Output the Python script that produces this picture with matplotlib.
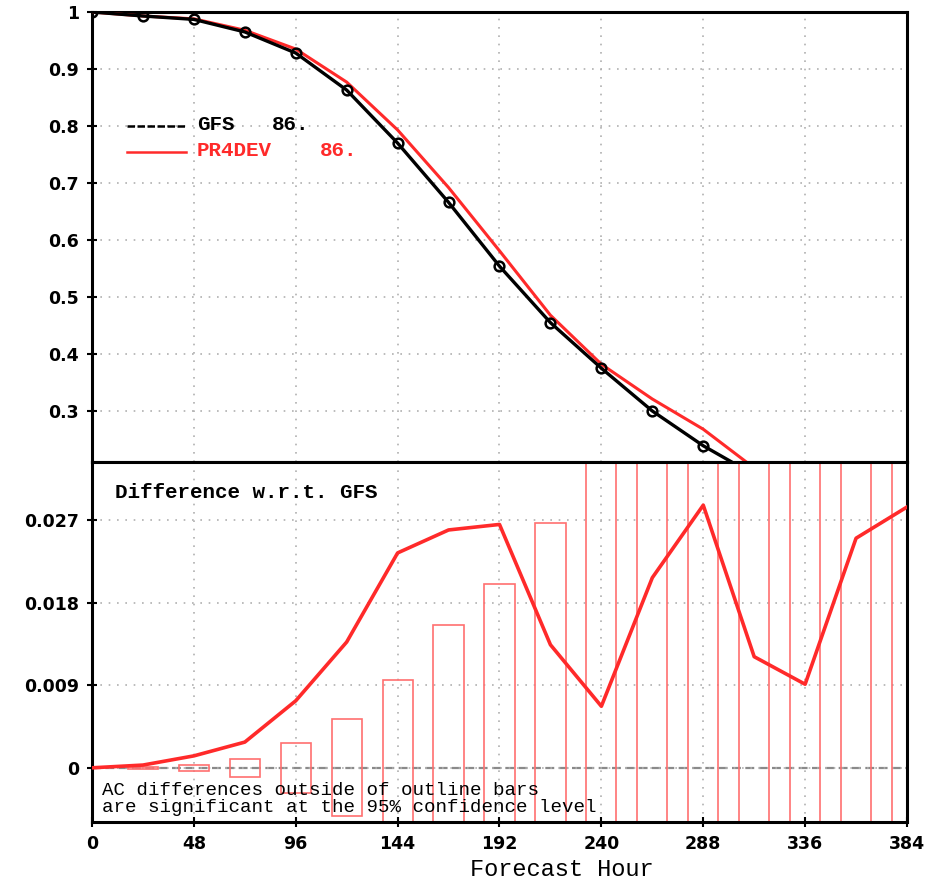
import matplotlib
matplotlib.use("Agg")
import matplotlib.pyplot as plt
import numpy as np

# ---- data ----
hours = [0, 24, 48, 72, 96, 120, 144, 168, 192, 216, 240, 264, 288, 312, 336, 360, 384]
gfs = [1.0, 0.993, 0.987, 0.965, 0.928, 0.863, 0.770, 0.666, 0.554, 0.455, 0.375, 0.300, 0.239, 0.188, 0.151, 0.120, 0.100]
pr4dev = [1.0, 0.993, 0.988, 0.968, 0.935, 0.877, 0.793, 0.692, 0.581, 0.468, 0.382, 0.321, 0.268, 0.200, 0.160, 0.145, 0.128]
diff = [0.0, 0.0003, 0.0013, 0.0028, 0.0073, 0.0137, 0.0234, 0.0259, 0.0265, 0.0134, 0.0067, 0.0207, 0.0286, 0.0121, 0.0091, 0.0250, 0.0284]
bar_hours = [24, 48, 72, 96, 120, 144, 168, 192, 216, 240, 264, 288, 312, 336, 360, 384]
bar_half = [0.0001, 0.0003, 0.0010, 0.0027, 0.0053, 0.0096, 0.0155, 0.0200, 0.0267, 0.036, 0.042, 0.047, 0.052, 0.056, 0.060, 0.064]
x_ticks = [0, 48, 96, 144, 192, 240, 288, 336, 384]
top_yticks = [0.3, 0.4, 0.5, 0.6, 0.7, 0.8, 0.9, 1.0]
top_yticklabels = ["0.3", "0.4", "0.5", "0.6", "0.7", "0.8", "0.9", "1"]
bot_yticks = [0, 0.009, 0.018, 0.027]
bot_yticklabels = ["0", "0.009", "0.018", "0.027"]

W, H = 933, 883
fig = plt.figure(figsize=(W / 100, H / 100), dpi=100)

def fx(px):
    return px / W

def fy(py):
    return 1 - py / H

left, right = 92, 907
ax1 = fig.add_axes([fx(left), fy(462), fx(right - left), (462 - 12) / H])
ax2 = fig.add_axes([fx(left), fy(822), fx(right - left), (822 - 462) / H])

tick_font = dict(family="DejaVu Sans", weight="bold", size=12.5)
grid_kw = dict(color="#b0b0b0", linestyle=(0, (1, 4)), linewidth=1.2)

for ax in (ax1, ax2):
    for s in ax.spines.values():
        s.set_linewidth(2.2)
        s.set_color("black")
    ax.set_xlim(0, 384)
    ax.set_xticks(x_ticks)
    ax.grid(True, **grid_kw)
    ax.tick_params(axis="both", direction="inout", length=7, width=1.5, pad=6)

# ---- top panel ----
ax1.set_ylim(0.2105, 1.0)
ax1.set_yticks(top_yticks)
ax1.set_yticklabels(top_yticklabels, fontdict=tick_font)
ax1.tick_params(axis="x", labelbottom=False, length=0)
ax1.plot(hours, pr4dev, color="#ff2a2a", linewidth=2.2, zorder=3, clip_on=True)
ax1.plot(hours, gfs, color="black", linewidth=2.4, marker="o", markersize=7,
         markerfacecolor="none", markeredgecolor="black", markeredgewidth=1.8, zorder=4)

# legend (drawn manually, GrADS style)
fig.add_artist(plt.Line2D([fx(127), fx(186)], [fy(126), fy(126)], color="black",
                          linewidth=1.8, linestyle=(0, (3, 1))))
fig.add_artist(plt.Line2D([fx(127), fx(186)], [fy(152), fy(152)], color="#ff2a2a",
                          linewidth=1.8))
leg_font = dict(family="Liberation Mono", weight="bold", size=15)
fig.text(fx(197), fy(125), "GFS", va="center", ha="left", color="black", **leg_font)
fig.text(fx(272), fy(125), "86.", va="center", ha="left", color="black", **leg_font)
fig.text(fx(197), fy(151), "PR4DEV", va="center", ha="left", color="#ff2a2a", **leg_font)
fig.text(fx(320), fy(151), "86.", va="center", ha="left", color="#ff2a2a", **leg_font)

# ---- bottom panel ----
ax2.set_ylim(-0.0059, 0.0333)
ax2.set_yticks(bot_yticks)
ax2.set_yticklabels(bot_yticklabels, fontdict=tick_font)
ax2.set_xticklabels([str(h) for h in x_ticks], fontdict=tick_font)
ax2.axhline(0, color="#8a8a8a", linewidth=1.6, linestyle=(0, (4, 2)), zorder=1)

bw = 14.2
for h, hw in zip(bar_hours, bar_half):
    ax2.add_patch(plt.Rectangle((h - bw / 2, -hw), bw, 2 * hw, fill=False,
                                edgecolor="#ff7070", linewidth=1.2, zorder=2))

ax2.plot(hours, diff, color="#ff2a2a", linewidth=2.6, zorder=4)

fig.text(fx(115), fy(493), "Difference w.r.t. GFS", va="center", ha="left",
         family="Liberation Mono", weight="bold", size=15)
fig.text(fx(102), fy(799), "AC differences outside of outline bars\nare significant at the 95% confidence level",
         va="center", ha="left", family="Liberation Mono", size=13.8, linespacing=1.0)

fig.text(fx(562), fy(870), "Forecast Hour", ha="center", va="center",
         family="Liberation Mono", size=17)

fig.savefig("out.png", dpi=100)
